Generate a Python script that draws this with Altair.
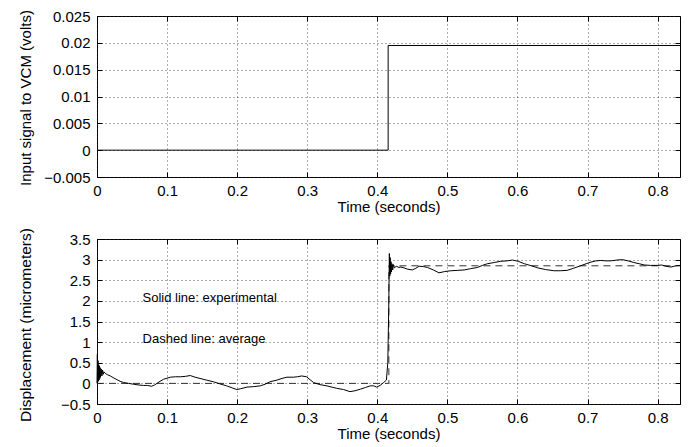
import altair as alt
import pandas as pd

FONT = "Liberation Sans"

# ---- data ----
x_ticks = [0, 0.1, 0.2, 0.3, 0.4, 0.5, 0.6, 0.7, 0.8]
top_y_ticks = [-0.005, 0, 0.005, 0.01, 0.015, 0.02, 0.025]
bottom_y_ticks = [-0.5, 0, 0.5, 1, 1.5, 2, 2.5, 3, 3.5]

input_time = [0.0, 0.4155, 0.4155, 0.832]
input_volts = [0.0, 0.0, 0.0195, 0.0195]

avg_time = [0.0, 0.4165, 0.4165, 0.832]
avg_disp = [0.0, 0.0, 2.85, 2.85]

exp_time = [
    0.000, 0.0005, 0.001, 0.0015, 0.002, 0.0025, 0.003, 0.0035, 0.004, 0.0045,
    0.005, 0.006, 0.007, 0.008, 0.009, 0.010, 0.012, 0.015, 0.019, 0.024,
    0.0285, 0.033, 0.038, 0.045, 0.052, 0.060, 0.0665, 0.072, 0.078, 0.082,
    0.0856, 0.090, 0.095, 0.1046, 0.112, 0.119, 0.126, 0.133, 0.140, 0.147,
    0.156, 0.166, 0.175, 0.185, 0.193, 0.1995, 0.205, 0.214, 0.223, 0.233,
    0.240, 0.247, 0.257, 0.264, 0.271, 0.280, 0.286, 0.292, 0.299, 0.304,
    0.309, 0.318, 0.328, 0.342, 0.352, 0.361, 0.368, 0.376, 0.383, 0.390,
    0.395, 0.399, 0.404, 0.409, 0.413, 0.415, 0.4165, 0.4172, 0.4178, 0.4184,
    0.419, 0.4196, 0.4202, 0.421, 0.422, 0.423, 0.4245, 0.427, 0.431, 0.4337,
    0.438, 0.443, 0.450, 0.455, 0.4597, 0.466, 0.4716, 0.480, 0.488, 0.496,
    0.505, 0.515, 0.524, 0.533, 0.543, 0.550, 0.557, 0.567, 0.576, 0.585,
    0.593, 0.601, 0.610, 0.620, 0.629, 0.640, 0.652, 0.661, 0.671, 0.680,
    0.690, 0.698, 0.705, 0.712, 0.719, 0.726, 0.733, 0.742, 0.750, 0.758,
    0.766, 0.774, 0.781, 0.790, 0.800, 0.806, 0.812, 0.819, 0.826, 0.832,
]
exp_disp = [
    0.0, 0.70, 0.10, 0.55, 0.05, 0.45, 0.08, 0.42, 0.12, 0.38,
    0.15, 0.35, 0.18, 0.32, 0.22, 0.28, 0.24, 0.21, 0.18, 0.13,
    0.09, 0.05, 0.02, 0.0, -0.02, -0.04, -0.05, -0.05, -0.07, -0.04,
    0.0, 0.05, 0.10, 0.15, 0.16, 0.16, 0.17, 0.19, 0.15, 0.12,
    0.08, 0.04, -0.01, -0.06, -0.11, -0.15, -0.13, -0.09, -0.08, -0.06,
    -0.02, 0.04, 0.08, 0.12, 0.15, 0.15, 0.16, 0.18, 0.16, 0.09,
    0.02, -0.03, -0.06, -0.12, -0.15, -0.20, -0.18, -0.14, -0.10, -0.06,
    -0.06, -0.09, -0.05, 0.02, 0.08, 0.50, 2.00, 3.15, 2.60, 3.05,
    2.65, 2.95, 2.70, 2.90, 2.75, 2.88, 2.80, 2.84, 2.81, 2.82,
    2.80, 2.77, 2.75, 2.79, 2.84, 2.83, 2.81, 2.75, 2.68, 2.71,
    2.73, 2.74, 2.75, 2.78, 2.81, 2.86, 2.90, 2.93, 2.96, 2.97,
    2.99, 2.96, 2.90, 2.85, 2.80, 2.76, 2.73, 2.73, 2.74, 2.79,
    2.85, 2.90, 2.94, 2.97, 2.98, 2.97, 2.97, 2.99, 3.00, 2.97,
    2.93, 2.90, 2.87, 2.86, 2.86, 2.87, 2.84, 2.82, 2.85, 2.86,
]

note_time = [0.065, 0.065]
note_disp = [2.07, 1.08]
note_text = ["Solid line: experimental", "Dashed line: average"]

# ---- tables ----
step_df = pd.DataFrame({"t": input_time, "v": input_volts, "i": range(len(input_time))})
avg_df = pd.DataFrame({"t": avg_time, "v": avg_disp, "i": range(len(avg_time))})
exp_df = pd.DataFrame({"t": exp_time, "v": exp_disp, "i": range(len(exp_time))})
note_df = pd.DataFrame({"t": note_time, "v": note_disp, "txt": note_text})

W = 583
H_TOP = 161
H_BOT = 165

xscale = alt.Scale(domain=[0, 0.832], nice=False, zero=False)
top_yscale = alt.Scale(domain=[-0.005, 0.025], nice=False, zero=False)
bot_yscale = alt.Scale(domain=[-0.5, 3.5], nice=False, zero=False)

common = dict(
    labelFont=FONT, titleFont=FONT,
    labelColor="black", titleColor="black", titleFontWeight="normal",
    domain=False, labelFlush=False, labelOverlap=False,
    tickColor="black", tickSize={"expr": "-5"}, tickWidth=1,
    gridColor="#333333", gridDash=[1, 3], gridWidth=1, gridOpacity=0.8,
)

def main_x_axis():
    return alt.Axis(title="Time (seconds)", values=x_ticks, format="~g", grid=True,
                    labelFontSize=15, titleFontSize=15,
                    labelPadding=11, titlePadding=1, **common)

def main_y_axis(title, ticks, ty, tsize):
    return alt.Axis(title=title, values=ticks, format="~g", grid=True,
                    labelFontSize=15, titleFontSize=tsize,
                    labelPadding=12, titleX=-72, titleY=ty, titleAngle=270,
                    titleBaseline="middle", titleAlign="center", **common)

def ghost_x_axis():
    return alt.Axis(orient="top", values=x_ticks, labels=False, title=None, grid=False,
                    domain=False, tickColor="black", tickSize={"expr": "-5"})

def ghost_y_axis(ticks):
    return alt.Axis(orient="right", values=ticks, labels=False, title=None, grid=False,
                    domain=False, tickColor="black", tickSize={"expr": "-5"})

# ---- top panel ----
step_line = alt.Chart(step_df).mark_line(color="black", strokeWidth=1).encode(
    x=alt.X("t:Q", scale=xscale, axis=main_x_axis()),
    y=alt.Y("v:Q", scale=top_yscale,
            axis=main_y_axis("Input signal to VCM (volts)", top_y_ticks, H_TOP / 2 + 1, 15)),
    order="i:O",
)
top_ghost = alt.Chart(step_df).mark_line(opacity=0).encode(
    x=alt.X("t:Q", scale=xscale, axis=ghost_x_axis()),
    y=alt.Y("v:Q", scale=top_yscale, axis=ghost_y_axis(top_y_ticks)),
    order="i:O",
)
top = alt.layer(step_line, top_ghost).resolve_axis(x="independent", y="independent").properties(
    width=W, height=H_TOP)

# ---- bottom panel ----
avg_line = alt.Chart(avg_df).mark_line(color="#333333", strokeWidth=1, strokeDash=[7, 5]).encode(
    x=alt.X("t:Q", scale=xscale, axis=main_x_axis()),
    y=alt.Y("v:Q", scale=bot_yscale,
            axis=main_y_axis("Displacement (micrometers)", bottom_y_ticks, H_BOT / 2 + 3, 15.5)),
    order="i:O",
)
exp_line = alt.Chart(exp_df).mark_line(color="black", strokeWidth=1).encode(
    x=alt.X("t:Q", scale=xscale, axis=None),
    y=alt.Y("v:Q", scale=bot_yscale, axis=None),
    order="i:O",
)
notes = alt.Chart(note_df).mark_text(align="left", baseline="middle", font=FONT, fontSize=13,
                                      color="black").encode(
    x=alt.X("t:Q", scale=xscale, axis=None),
    y=alt.Y("v:Q", scale=bot_yscale, axis=None),
    text="txt:N",
)
bot_ghost = alt.Chart(avg_df).mark_line(opacity=0).encode(
    x=alt.X("t:Q", scale=xscale, axis=ghost_x_axis()),
    y=alt.Y("v:Q", scale=bot_yscale, axis=ghost_y_axis(bottom_y_ticks)),
    order="i:O",
)
bottom = alt.layer(avg_line, exp_line, notes, bot_ghost).resolve_axis(
    x="independent", y="independent").properties(width=W, height=H_BOT)

chart = alt.vconcat(top, bottom, spacing=62, bounds="flush").properties(
    padding={"left": 9, "top": 0, "right": 5, "bottom": 0},
    background="white",
).configure_view(stroke="black", strokeWidth=1)

chart.save("out.html", embed_options={"renderer": "svg", "actions": False})
